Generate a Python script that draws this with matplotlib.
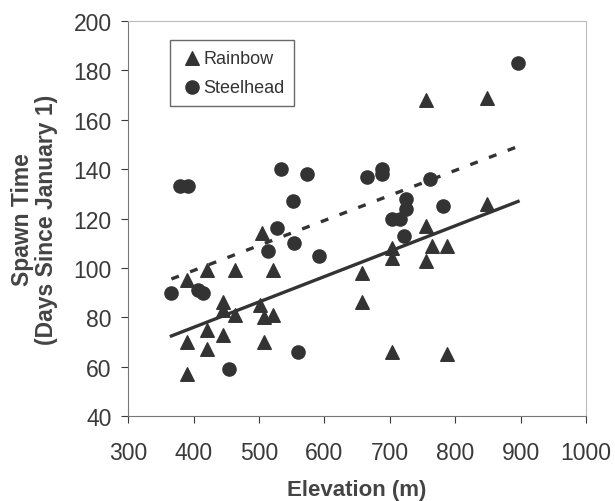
import numpy as np
import matplotlib
matplotlib.use('Agg')
import matplotlib.pyplot as plt

# Rainbow trout: elevation (m) and spawn day
rainbow_elev = [390, 390, 390, 420, 420, 420, 445, 445, 445, 463, 463, 502,
                508, 508, 505, 522, 522, 657, 657, 703, 703, 703, 756, 756,
                756, 764, 788, 788, 848, 848]
rainbow_day = [95, 70, 57, 99, 75, 67, 86, 83, 73, 99, 81, 85,
               80, 70, 114, 81, 99, 98, 86, 108, 104, 66, 168, 117,
               103, 109, 109, 65, 169, 126]

# Steelhead: elevation (m) and spawn day
steel_elev = [379, 392, 533, 573, 552, 527, 553, 514, 366, 407, 415, 454,
              560, 591, 665, 688, 688, 761, 725, 725, 703, 715, 722, 781, 896]
steel_day = [133, 133, 140, 138, 127, 116, 110, 107, 90, 91, 90, 59,
             66, 105, 137, 140, 138, 136, 128, 124, 120, 120, 113, 125, 183]

ink = '#333333'
plt.rcParams['font.family'] = ['Liberation Sans', 'DejaVu Sans']

fig = plt.figure(figsize=(6.15, 5.02), dpi=100)
ax = fig.add_axes([0.2085, 0.1693, 0.7445, 0.7867])

ax.scatter(rainbow_elev, rainbow_day, marker='^', s=95, color=ink, label='Rainbow', zorder=3)
ax.scatter(steel_elev, steel_day, marker='o', s=90, color=ink, label='Steelhead', zorder=3)

# least squares trend lines over the sampled elevation range
fit_r = np.polyfit(rainbow_elev, rainbow_day, 1)
fit_s = np.polyfit(steel_elev, steel_day, 1)
xr = np.array([min(steel_elev), max(steel_elev)])
ax.plot(xr, np.polyval(fit_r, xr), color=ink, lw=2.4, zorder=2)
ax.plot(xr, np.polyval(fit_s, xr), color=ink, lw=2.4, ls=(0, (2.4, 3.6)), zorder=2)

ax.set_xlim(300, 1000)
ax.set_ylim(40, 200)
ax.set_xticks(range(300, 1001, 100))
ax.set_yticks(range(40, 201, 20))
ax.tick_params(labelsize=16.5, colors='#3a3a3a', length=5, direction='out')
ax.tick_params(axis='y', pad=7)
ax.tick_params(axis='x', pad=13)
for side in ['top', 'right']:
    ax.spines[side].set_color('#bbbbbb')
for side in ['left', 'bottom']:
    ax.spines[side].set_color('#777777')

ax.set_xlabel('Elevation (m)', fontsize=16, fontweight='bold', color='#444444', labelpad=11)
ax.set_ylabel('Spawn Time\n(Days Since January 1)', fontsize=16.5, fontweight='bold',
              color='#444444', labelpad=11, linespacing=1.05)

leg = ax.legend(loc='upper left', bbox_to_anchor=(0.091, 0.952), fontsize=13,
                frameon=True, fancybox=False, handletextpad=0.0, handlelength=1.3,
                borderpad=0.55, labelspacing=0.65, borderaxespad=0)
leg.get_frame().set_edgecolor('#444444')
leg.get_frame().set_linewidth(1.0)
for t in leg.get_texts():
    t.set_color('#333333')

fig.savefig('out.png', dpi=100)
